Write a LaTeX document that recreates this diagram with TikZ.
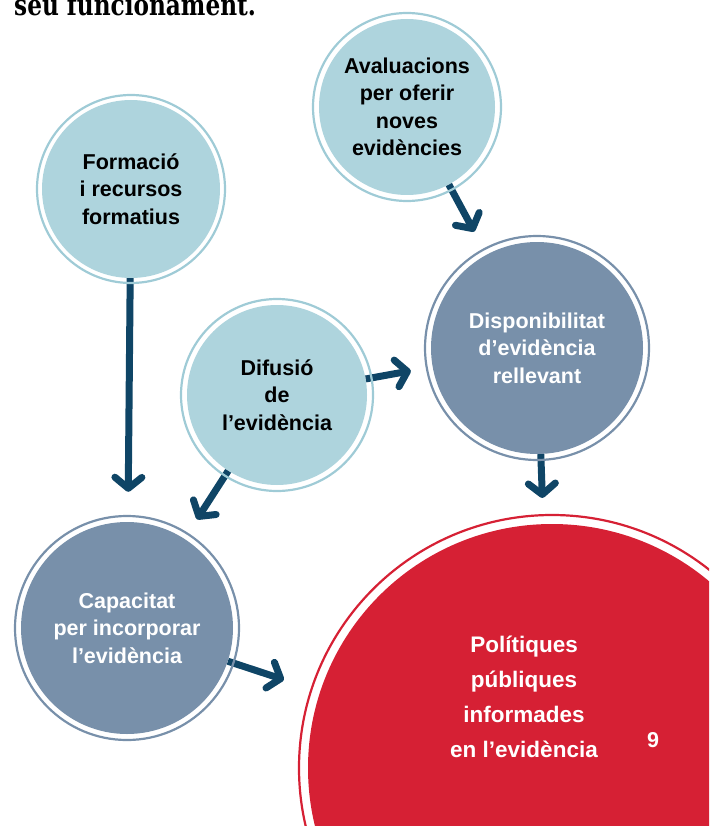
\documentclass[tikz,border=0pt]{standalone}
\usepackage{fontspec}
\setmainfont{Liberation Sans}
\newfontfamily\serifbold{DejaVu Serif}
\usetikzlibrary{arrows.meta}
\definecolor{lightfill}{HTML}{AED4DD}
\definecolor{lightring}{HTML}{9FCBD6}
\definecolor{darkfill}{HTML}{7890AA}
\definecolor{redfill}{HTML}{D62034}
\definecolor{arrowcol}{HTML}{0F4566}
\begin{document}
\begin{tikzpicture}[x=1pt,y=-1pt,
 bubble/.style={circle,inner sep=0pt,minimum size=#1,align=center,font=\fontsize{21.5}{27.5}\selectfont\bfseries},
 lightb/.style={fill=lightfill,text=black},
 darkb/.style={fill=darkfill,text=white},
 ringline/.style={line width=2.2pt},
 flow/.style={draw=arrowcol,line width=7pt,-{Straight Barb[length=11pt,width=27pt,round]}},
]
\useasboundingbox (0,0) rectangle (709,826);
\clip (0,0) rectangle (709,826);

\node[anchor=base west,inner sep=0pt,font=\serifbold\bfseries\fontsize{29}{32}\selectfont] (title) at (14,15.5) {\scalebox{0.8}[1]{seu funcionament.}};

\node[bubble=176pt,lightb] (aval) at (407,107) {Avaluacions\\per oferir\\noves\\evidències};
\node[bubble=178pt,lightb] (form) at (131,189) {Formació\\i recursos\\formatius};
\node[bubble=180pt,lightb] (dif) at (277,395) {Difusió\\de\\l’evidència};
\node[bubble=212pt,darkb] (disp) at (537,348) {Disponibilitat\\d’evidència\\rellevant};
\node[bubble=212pt,darkb] (cap) at (127,628) {Capacitat\\per incorporar\\l’evidència};
\node[circle,inner sep=0pt,minimum size=488pt,fill=redfill] (pol) at (552,768) {};
\node[align=center,text=white,font=\fontsize{22.5}{35}\selectfont\bfseries] (poltext) at (524,697) {Polítiques\\públiques\\informades\\en l’evidència};
\node[text=white,font=\fontsize{21.5}{25}\selectfont\bfseries] (nine) at (653,740) {9};

\draw[flow,shorten >=26pt] (aval) -- (disp);
\draw[flow,shorten >=30pt] (form) -- (cap);
\draw[flow,shorten >=22pt] (dif) -- (disp);
\draw[flow,shorten >=23pt] (dif) -- (cap);
\draw[flow,shorten >=26pt] (disp) -- (pol);
\draw[flow,shorten >=38pt] (cap) -- (pol);

\draw[ringline,lightring] (aval.center) circle[radius=94];
\draw[ringline,lightring] (form.center) circle[radius=94];
\draw[ringline,lightring] (dif.center) circle[radius=96];
\draw[ringline,darkfill] (disp.center) circle[radius=112];
\draw[ringline,darkfill] (cap.center) circle[radius=112];
\draw[ringline,redfill] (pol.center) circle[radius=253];
\end{tikzpicture}
\end{document}
